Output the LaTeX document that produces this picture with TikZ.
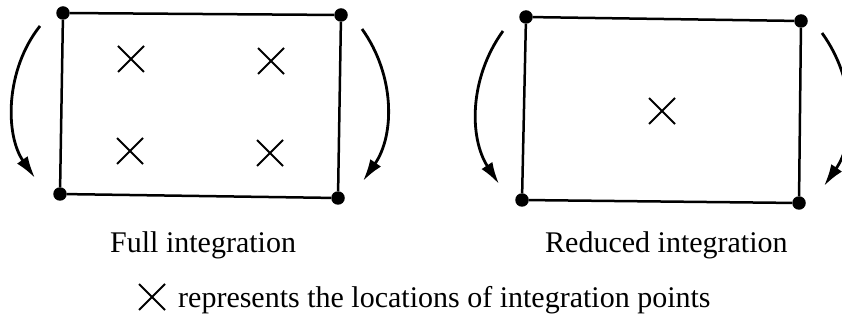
\documentclass[tikz,border=0pt]{standalone}
\usepackage{fontspec}
\setmainfont{Liberation Serif}
\usetikzlibrary{shapes.misc,arrows.meta}
\begin{document}
\begin{tikzpicture}[x=1pt,y=-1pt,
  corner/.style={circle,fill=black,inner sep=0pt,minimum size=13.5pt},
  edge/.style={line width=2.5pt},
  ipt/.style={cross out,draw=black,line width=2pt,minimum size=24pt,inner sep=0pt},
  rot/.style={line width=2.8pt,-{Latex[length=22pt,width=13pt]}},
  lbl/.style={font=\fontsize{30}{34}\selectfont,anchor=base,inner sep=0pt}]
\useasboundingbox (0,0) rectangle (842,320);
\clip (0,0) rectangle (842,320);
% Full integration element
\node[corner] (a1) at (63,13) {};
\node[corner] (a2) at (341,15) {};
\node[corner] (a3) at (338,198) {};
\node[corner] (a4) at (60,194) {};
\draw[edge] (a1) -- (a2) -- (a3) -- (a4) -- (a1);
\node[ipt] (p1) at (131,59) {};
\node[ipt] (p2) at (271,61) {};
\node[ipt] (p3) at (130,151) {};
\node[ipt] (p4) at (270,153) {};
\coordinate (l1s) at (40,26);  \coordinate (l1e) at (35,178);
\coordinate (r1s) at (362,29); \coordinate (r1e) at (363,181);
\draw[rot] (l1s) .. controls (5,70) and (5,135) .. (l1e);
\draw[rot] (r1s) .. controls (395,75) and (395,135) .. (r1e);
% Reduced integration element
\node[corner] (b1) at (526,17) {};
\node[corner] (b2) at (801,21) {};
\node[corner] (b3) at (799,203) {};
\node[corner] (b4) at (522,200) {};
\draw[edge] (b1) -- (b2) -- (b3) -- (b4) -- (b1);
\node[ipt] (q1) at (662,111) {};
\coordinate (l2s) at (503,31); \coordinate (l2e) at (499,184);
\coordinate (r2s) at (822,33); \coordinate (r2e) at (824,186);
\draw[rot] (l2s) .. controls (469,78) and (469,138) .. (l2e);
\draw[rot] (r2s) .. controls (856,80) and (856,140) .. (r2e);
% labels
\node[lbl,anchor=base west] (t1) at (110,252) {Full integration};
\node[lbl,anchor=base west] (t2) at (545,252) {Reduced integration};
\node[ipt] (lg) at (152,297) {};
\node[lbl,anchor=base west] (t3) at (178,307) {represents the locations of integration points};
\end{tikzpicture}
\end{document}
